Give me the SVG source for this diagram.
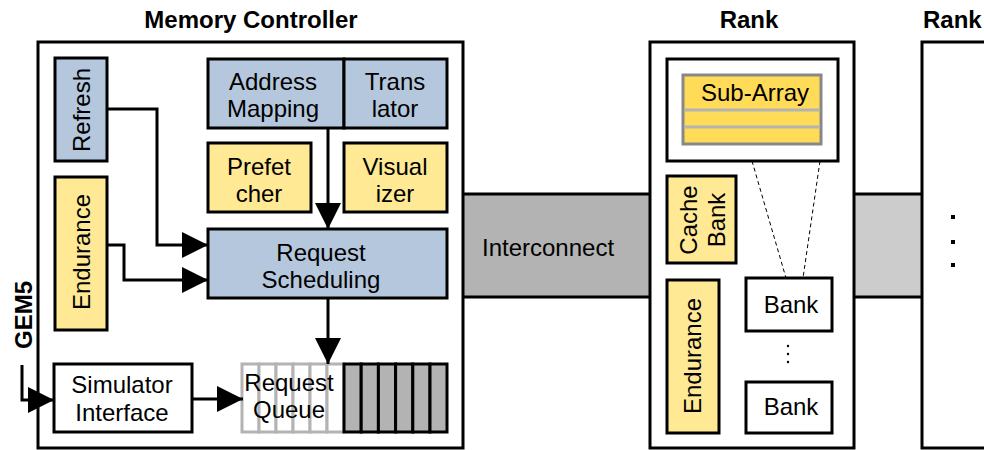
<svg xmlns="http://www.w3.org/2000/svg" width="984" height="450" viewBox="0 0 984 450">
<style>
text{font-family:"Liberation Sans",Arial,sans-serif;font-size:24px;fill:#000}
.t{font-weight:bold;text-anchor:middle}
.c{text-anchor:middle}
.box{stroke:#000;stroke-width:3}
.blue{fill:#b4c7dc}
.yel{fill:#ffe994}
.wh{fill:#fff}
.ln{fill:none;stroke:#000;stroke-width:3}
</style>
<defs>
<marker id="ah" markerUnits="userSpaceOnUse" markerWidth="26" markerHeight="26" viewBox="0 0 26 26" refX="26" refY="13" orient="auto">
<path d="M0,0 L26,13 L0,26 Z" fill="#000"/>
</marker>
</defs>
<rect width="984" height="450" fill="#fff"/>

<g id="interconnect">
<rect x="463" y="194" width="187" height="103" fill="#b3b3b3"/>
<line x1="463" y1="194" x2="650" y2="194" class="ln"/>
<line x1="463" y1="297" x2="650" y2="297" class="ln"/>
<text x="482" y="256">Interconnect</text>
</g>
<g id="band2">
<rect x="854" y="194" width="68" height="103" fill="#cccccc"/>
<line x1="854" y1="194" x2="922" y2="194" class="ln"/>
<line x1="854" y1="297" x2="922" y2="297" class="ln"/>
</g>

<g id="memory-controller">
<text class="t" x="251" y="28">Memory Controller</text>
<rect x="38" y="42" width="425" height="406" class="box wh"/>
</g>

<g id="refresh">
<rect x="55" y="58" width="52" height="103" class="box blue"/>
<text class="c" transform="translate(90,110) rotate(-90)">Refresh</text>
</g>
<g id="endurance-mc">
<rect x="55" y="177" width="52" height="153" class="box yel"/>
<text class="c" transform="translate(90,252) rotate(-90)">Endurance</text>
</g>
<g id="address-mapping">
<rect x="208" y="59" width="136" height="69" class="box blue"/>
<text class="c" x="273" y="90">Address</text>
<text class="c" x="273" y="117">Mapping</text>
</g>
<g id="translator">
<rect x="344" y="59" width="103" height="69" class="box blue"/>
<text class="c" x="395" y="90">Trans</text>
<text class="c" x="395" y="117">lator</text>
</g>
<g id="prefetcher">
<rect x="208" y="143" width="103" height="69" class="box yel"/>
<text class="c" x="259" y="175">Prefet</text>
<text class="c" x="259" y="202">cher</text>
</g>
<g id="visualizer">
<rect x="344" y="143" width="103" height="69" class="box yel"/>
<text class="c" x="395" y="175">Visual</text>
<text class="c" x="395" y="202">izer</text>
</g>
<g id="request-scheduling">
<rect x="208" y="229" width="239" height="69" class="box blue"/>
<text class="c" x="321" y="261">Request</text>
<text class="c" x="321" y="288">Scheduling</text>
</g>
<g id="simulator-interface">
<rect x="54" y="364" width="138" height="68" class="box wh"/>
<text class="c" x="122" y="393">Simulator</text>
<text class="c" x="122" y="421">Interface</text>
</g>
<g id="request-queue">
<g fill="#fff" stroke="#b3b3b3" stroke-width="3">
<rect x="242" y="364" width="17" height="68"/>
<rect x="259" y="364" width="17" height="68"/>
<rect x="276" y="364" width="17" height="68"/>
<rect x="293" y="364" width="17" height="68"/>
<rect x="310" y="364" width="17" height="68"/>
<rect x="327" y="364" width="17" height="68"/>
</g>
<g fill="#b3b3b3" stroke="#000" stroke-width="3">
<rect x="344" y="364" width="17.2" height="68"/>
<rect x="361.2" y="364" width="17.2" height="68"/>
<rect x="378.4" y="364" width="17.2" height="68"/>
<rect x="395.6" y="364" width="17.2" height="68"/>
<rect x="412.8" y="364" width="17.2" height="68"/>
<rect x="430" y="364" width="17" height="68"/>
</g>
<text class="c" x="289" y="391">Request</text>
<text class="c" x="289" y="418">Queue</text>
</g>
<g id="gem5">
<text class="t" transform="translate(32,315) rotate(-90)">GEM5</text>
</g>

<g id="rank">
<text class="t" x="749" y="28">Rank</text>
<rect x="650" y="42" width="204" height="406" class="box wh"/>
</g>
<g id="subarray-box">
<rect x="667" y="59" width="171" height="102" class="box wh"/>
<rect x="683" y="75" width="138" height="69" fill="#ffdb58" stroke="#888" stroke-width="3"/>
<line x1="684" y1="110" x2="820" y2="110" stroke="#b3b3b3" stroke-width="3"/>
<line x1="684" y1="127" x2="820" y2="127" stroke="#b3b3b3" stroke-width="3"/>
<text class="c" x="755" y="101">Sub-Array</text>
</g>
<g id="cache-bank">
<rect x="667" y="176" width="69" height="87" class="box yel"/>
<text class="c" transform="translate(697,220) rotate(-90)">Cache</text>
<text class="c" transform="translate(725,220) rotate(-90)">Bank</text>
</g>
<g id="endurance-rank">
<rect x="667" y="280" width="52" height="153" class="box yel"/>
<text class="c" transform="translate(701,356) rotate(-90)">Endurance</text>
</g>
<g id="bank1">
<rect x="746" y="278" width="86" height="53" class="box wh"/>
<text class="c" x="791" y="313">Bank</text>
</g>
<g id="bank-dots">
<circle cx="788" cy="346" r="1.2"/>
<circle cx="788" cy="354" r="1.2"/>
<circle cx="788" cy="362" r="1.2"/>
</g>
<g id="bank2">
<rect x="746" y="382" width="86" height="51" class="box wh"/>
<text class="c" x="791" y="415">Bank</text>
</g>

<g id="rank2">
<text class="t" x="923" y="28" style="text-anchor:start">Rank</text>
<rect x="922" y="42" width="80" height="406" class="box wh"/>
<rect x="951" y="215" width="4" height="4"/>
<rect x="951" y="240" width="4" height="4"/>
<rect x="951" y="263" width="4" height="4"/>
</g>

<g id="connectors">
<path class="ln" d="M107,109 H157 V245 H208" marker-end="url(#ah)"/>
<path class="ln" d="M107,245 H124 V280 H208" marker-end="url(#ah)"/>
<path class="ln" d="M328,128 V229" marker-end="url(#ah)"/>
<path class="ln" d="M328,298 V364" marker-end="url(#ah)"/>
<path class="ln" d="M22,365 V400 H54" marker-end="url(#ah)"/>
<path class="ln" d="M192,399 H243" marker-end="url(#ah)"/>
<line x1="752" y1="161" x2="786" y2="278" stroke="#000" stroke-width="1" stroke-dasharray="4,3"/>
<line x1="820" y1="161" x2="803" y2="278" stroke="#000" stroke-width="1" stroke-dasharray="4,3"/>
</g>
</svg>
